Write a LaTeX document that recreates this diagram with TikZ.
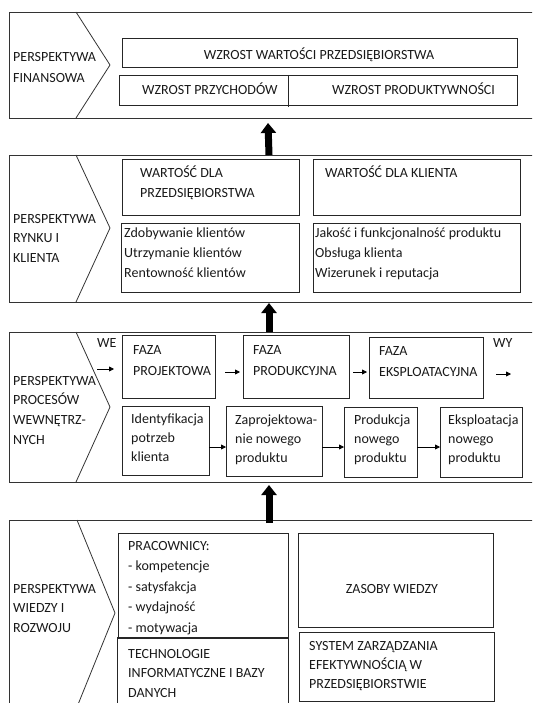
\documentclass[tikz,border=0pt]{standalone}
\usepackage{fontspec}
\setmainfont{Carlito}
\usetikzlibrary{arrows.meta,calc}
\tikzset{
  boxst/.style={draw=black!85,line width=0.8pt,inner sep=0pt,outer sep=0pt},
  txt/.style={anchor=base west,inner sep=0pt,font=\fontsize{14}{17}\selectfont,text=black!90},
  ctxt/.style={txt,anchor=base},
  frame/.style={draw=black!80,line width=0.8pt},
  bigarrow/.style={line width=7pt,-{Triangle[width=15pt,length=10pt]}},
  smallarrow/.style={line width=0.8pt,-{Triangle[width=5pt,length=5pt]}}
}
\newcommand\mybox[5]{\node[boxst,minimum width={#4-#2},minimum height={#5-#3}] (#1) at ({(#2+#4)/2},{(#3+#5)/2}) {};}
\newcommand\tlines[5]{\foreach \t [count=\i from 0] in {#5} {\node[txt] (#1-\i) at (#2,{#3+\i*#4}) {\t};}}
\begin{document}
\begin{tikzpicture}[x=1pt,y=-1pt]
\useasboundingbox (0,0) rectangle (532,703);
\clip (0,0) rectangle (532,703);
% section frames
\coordinate (s1t) at (268,12);  \coordinate (s1b) at (268,118);
\coordinate (s2t) at (269,155); \coordinate (s2b) at (269,302);
\coordinate (s3t) at (269,332); \coordinate (s3b) at (269,482);
\coordinate (s4t) at (269,520);
\draw[frame] (540,12) -- (9,12) -- (9,118) -- (540,118);
\draw[frame] (76,12) -- (110,65) -- (76,118);
\draw[frame] (540,155) -- (9,155) -- (9,302) -- (540,302);
\draw[frame] (76,155) -- (110,228) -- (76,302);
\draw[frame] (540,332) -- (9,332) -- (9,482) -- (540,482);
\draw[frame] (76,332) -- (110,407) -- (76,482);
\draw[frame] (540,520) -- (9,520) -- (9,720);
\draw[frame] (77,520) -- (115,613) -- (77,707);
% big arrows
\draw[bigarrow] (s2t) -- ($(s1b)+(0,5)$);
\draw[bigarrow] (s3t) -- ($(s2b)+(0,1)$);
\draw[bigarrow] ($(s4t)+(0,3)$) -- ($(s3b)+(0,3)$);
% section 1
\tlines{l1}{13}{62}{21}{PERSPEKTYWA,FINANSOWA}
\mybox{w1}{122}{38}{517}{67}
\mybox{w2}{119}{75}{517}{105}
\draw[line width=0.8pt,black!85] (288,75) -- (288,107);
\node[ctxt] (w1t) at (319,60) {WZROST WARTOŚCI PRZEDSIĘBIORSTWA};
\node[txt] (w2a) at (142,95) {WZROST PRZYCHODÓW};
\node[txt] (w2b) at (332,95) {WZROST PRODUKTYWNOŚCI};
% section 2
\tlines{l2}{13}{223}{19.5}{PERSPEKTYWA,RYNKU I,KLIENTA}
\mybox{b1}{122}{159}{299}{215}
\mybox{b2}{313}{159}{520}{215}
\mybox{b3}{121}{223}{299}{292}
\mybox{b4}{313}{223}{520}{292}
\tlines{b1t}{140}{178}{20}{WARTOŚĆ DLA,PRZEDSIĘBIORSTWA}
\node[txt] (b2t) at (325,178) {WARTOŚĆ DLA KLIENTA};
\tlines{b3t}{124}{237}{20}{Zdobywanie klientów,Utrzymanie klientów,Rentowność klientów}
\tlines{b4t}{315}{237}{20}{Jakość i funkcjonalność produktu,Obsługa klienta,Wizerunek i reputacja}
% section 3
\tlines{l3}{13}{385}{19.7}{PERSPEKTYWA,PROCESÓW,WEWNĘTRZ-,NYCH}
\mybox{f1}{122}{335}{215}{398}
\mybox{f2}{243}{335}{349}{398}
\mybox{f3}{369}{337}{483}{398}
\mybox{p1}{122}{406}{209}{475}
\mybox{p2}{226}{406}{322}{476}
\mybox{p3}{344}{407}{417}{477}
\mybox{p4}{440}{407}{522}{477}
\node[txt] (we) at (97,347) {WE};
\node[txt] (wy) at (493,347) {WY};
\tlines{f1t}{133}{354}{21}{FAZA,PROJEKTOWA}
\tlines{f2t}{253}{354}{21}{FAZA,PRODUKCYJNA}
\tlines{f3t}{379}{355}{21}{FAZA,EKSPLOATACYJNA}
\tlines{p1t}{131}{423}{19}{Identyfikacja,potrzeb,klienta}
\tlines{p2t}{235}{424}{19}{Zaprojektowa-,nie nowego,produktu}
\tlines{p3t}{354}{424}{19}{Produkcja,nowego,produktu}
\tlines{p4t}{448}{424}{19}{Eksploatacja,nowego,produktu}
\coordinate (wein) at (97,369);
\coordinate (wyout) at (511,374);
\draw[smallarrow] (wein) -- ($(f1.west)+(-8,2.5)$);
\draw[smallarrow] ($(f1.east)+(10,5.5)$) -- ($(f2.west)+(-3,5.5)$);
\draw[smallarrow] ($(f2.east)+(4,5.5)$) -- ($(f3.west)+(-2,4.5)$);
\draw[smallarrow] ($(f3.east)+(13,6.5)$) -- (wyout);
\draw[smallarrow] ($(p1.east)+(0,6.5)$) -- ($(p2.west)+(0,6)$);
\draw[smallarrow] ($(p2.east)+(0,6)$) -- ($(p3.west)+(0,5)$);
\draw[smallarrow] ($(p3.east)+(0,5)$) -- ($(p4.west)+(0,5)$);
% section 4
\tlines{l4}{13}{593}{19.5}{PERSPEKTYWA,WIEDZY I,ROZWOJU}
\mybox{r1}{118}{533}{288}{638}
\mybox{r2}{117}{637}{288}{712}
\mybox{r3}{298}{533}{493}{627}
\mybox{r4}{299}{632}{494}{701}
\tlines{r1t}{128}{550}{20.5}{PRACOWNICY:,- kompetencje,- satysfakcja,- wydajność,- motywacja}
\tlines{r2t}{128}{658}{19.5}{TECHNOLOGIE,INFORMATYCZNE I BAZY,DANYCH}
\node[ctxt] (r3t) at (392,593) {ZASOBY WIEDZY};
\tlines{r4t}{309}{650}{19}{SYSTEM ZARZĄDZANIA,EFEKTYWNOŚCIĄ W,PRZEDSIĘBIORSTWIE}
\end{tikzpicture}
\end{document}
